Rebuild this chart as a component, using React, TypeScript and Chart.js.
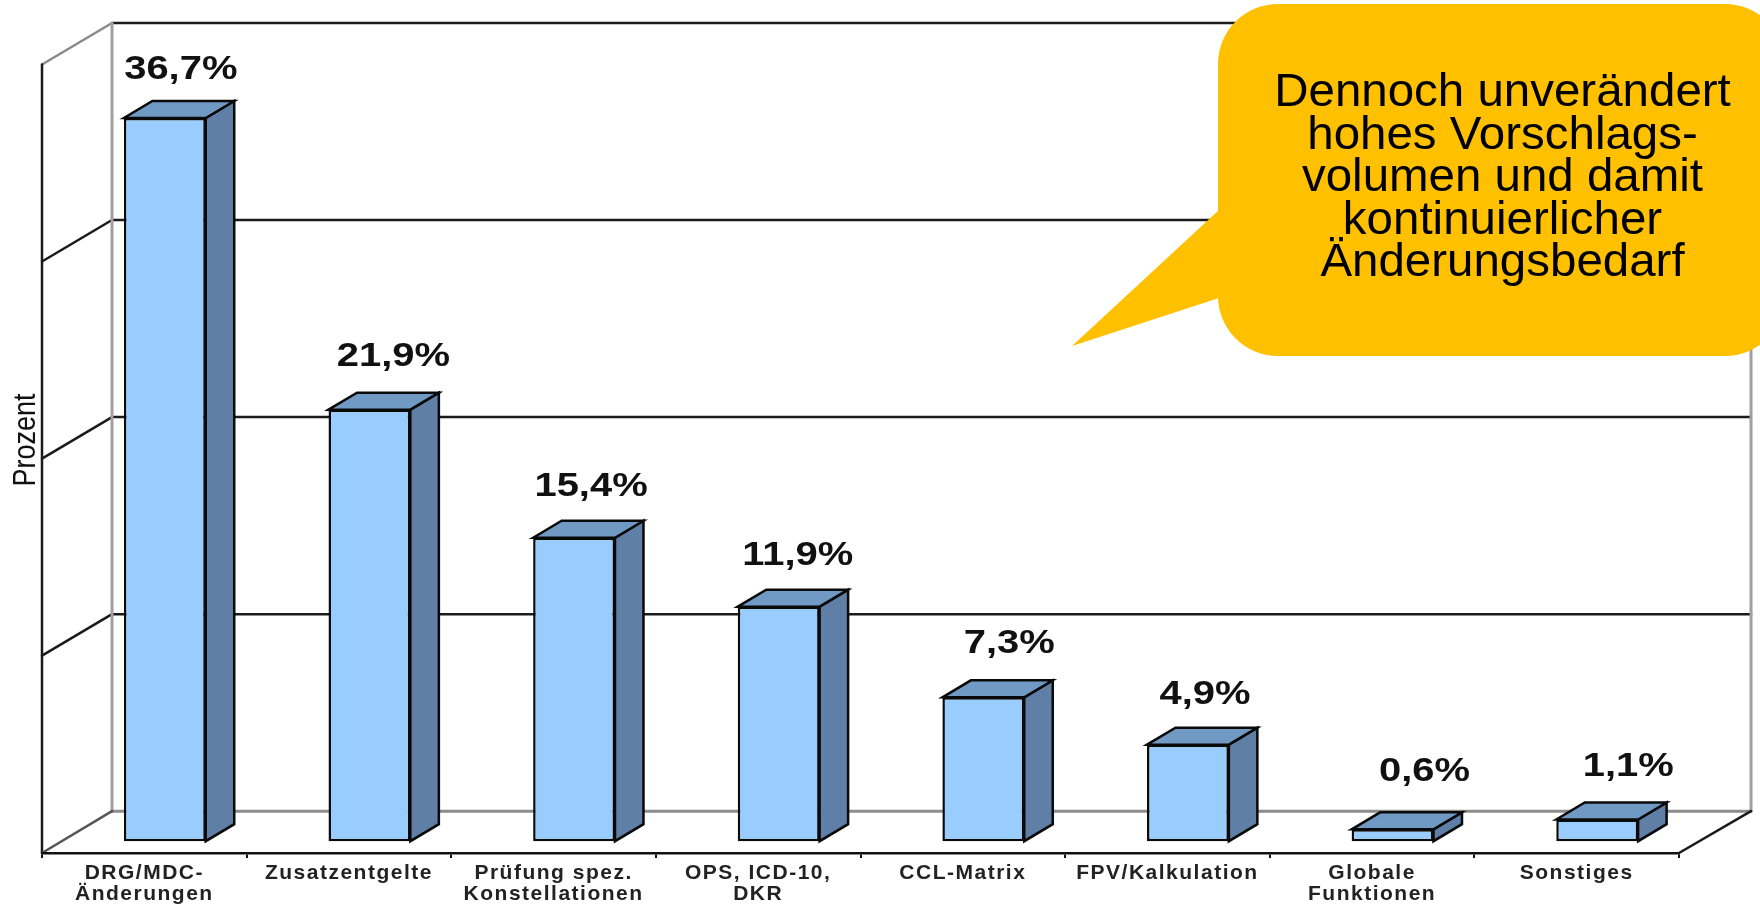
import React, { useEffect, useRef } from "react";
import { Chart, registerables } from "chart.js";

Chart.register(...registerables);

// Vorschlagsverteilung nach Themenbereich
const categories: string[][] = [
  ["DRG/MDC-", "Änderungen"],
  ["Zusatzentgelte"],
  ["Prüfung spez.", "Konstellationen"],
  ["OPS, ICD-10,", "DKR"],
  ["CCL-Matrix"],
  ["FPV/Kalkulation"],
  ["Globale", "Funktionen"],
  ["Sonstiges"],
];
const shares: number[] = [36.7, 21.9, 15.4, 11.9, 7.3, 4.9, 0.6, 1.1];
const shareLabels: string[] = ["36,7%", "21,9%", "15,4%", "11,9%", "7,3%", "4,9%", "0,6%", "1,1%"];
const wallTicks: number[] = [0, 10, 20, 30, 40];
const calloutLines: string[] = [
  "Dennoch unverändert",
  "hohes Vorschlags-",
  "volumen und damit",
  "kontinuierlicher",
  "Änderungsbedarf",
];
const axisTitle = "Prozent";

// Pseudo-3D geometry of the box: depth of the bars and the walls behind them
const BAR_SHIFT = 20.5;
const BAR_DX = 28.5;
const BAR_DY = -17;
const WALL_DX = 70;
const WALL_BACK = -30;
const WALL_FRONT = 11.5;

// Small per-label nudges for the value captions
const captionDx: number[] = [16, 24, 17, 19, 26, 17, 32, 31];
const captionDy: number[] = [-39, -44, -42, -42, -44, -41, -48, -44];

const FONT = '"Liberation Sans", Arial, sans-serif';

const segment = (ctx: CanvasRenderingContext2D, x1: number, y1: number, x2: number, y2: number, color: string, width: number) => {
  ctx.strokeStyle = color;
  ctx.lineWidth = width;
  ctx.beginPath();
  ctx.moveTo(x1, y1);
  ctx.lineTo(x2, y2);
  ctx.stroke();
};

const polygon = (ctx: CanvasRenderingContext2D, pts: number[][], fill: string) => {
  ctx.fillStyle = fill;
  ctx.strokeStyle = "#0a0a0a";
  ctx.lineWidth = 2.5;
  ctx.lineJoin = "miter";
  ctx.beginPath();
  pts.forEach(([x, y], i) => (i ? ctx.lineTo(x, y) : ctx.moveTo(x, y)));
  ctx.closePath();
  ctx.fill();
  ctx.stroke();
};

const boxPlugin = {
  id: "box3d",
  afterDatasetsUpdate(chart: any) {
    chart.getDatasetMeta(0).data.forEach((el: any) => {
      el.x += BAR_SHIFT;
    });
  },
  beforeDraw(chart: any) {
    const { ctx, chartArea: area, scales } = chart;
    const y = scales.y;
    const left = area.left;
    const right = area.right;
    const backL = left + WALL_DX;
    const backR = right + WALL_DX + 2;
    const bottom = y.getPixelForValue(0);
    const top = y.getPixelForValue(40);
    ctx.save();
    ctx.lineCap = "round";
    // Side wall and horizontal rules
    wallTicks.forEach((v) => {
      const py = y.getPixelForValue(v);
      if (v === 0) return;
      const dark = v < 40;
      segment(ctx, left, py + WALL_FRONT, backL, py + WALL_BACK, dark ? "#1a1a1a" : "#8a8a8a", 2.5);
      segment(ctx, backL, py + WALL_BACK, backR, py + WALL_BACK, "#1a1a1a", 2.5);
    });
    // Back wall frame and floor
    segment(ctx, backL, top + WALL_BACK, backL, bottom + WALL_BACK, "#a0a0a0", 3);
    segment(ctx, backR, top + WALL_BACK, backR, bottom + WALL_BACK, "#a0a0a0", 3);
    segment(ctx, backL, bottom + WALL_BACK, backR, bottom + WALL_BACK, "#8c8c8c", 3);
    segment(ctx, left, top + WALL_FRONT, left, area.bottom, "#1a1a1a", 2.5);
    segment(ctx, left, area.bottom, backL, bottom + WALL_BACK, "#555555", 2.5);
    segment(ctx, right, area.bottom, backR, bottom + WALL_BACK, "#1a1a1a", 2.5);
    ctx.restore();
    // Wide tracking for the category labels
    ctx.letterSpacing = "1.5px";
  },
  beforeDatasetsDraw(chart: any) {
    const { ctx } = chart;
    ctx.letterSpacing = "0px";
    ctx.save();
    chart.getDatasetMeta(0).data.forEach((el: any) => {
      const l = el.x - el.width / 2;
      const r = el.x + el.width / 2;
      const t = el.y;
      const b = el.base;
      polygon(ctx, [[r, t], [r + BAR_DX, t + BAR_DY], [r + BAR_DX, b + BAR_DY], [r, b]], "#5f7fa6");
      polygon(ctx, [[l, t], [l + BAR_DX, t + BAR_DY], [r + BAR_DX, t + BAR_DY], [r, t]], "#7099c4");
    });
    ctx.restore();
  },
  afterDatasetsDraw(chart: any) {
    const { ctx } = chart;
    ctx.save();
    ctx.fillStyle = "#111111";
    ctx.textAlign = "center";
    ctx.textBaseline = "alphabetic";
    ctx.font = `bold 33px ${FONT}`;
    chart.getDatasetMeta(0).data.forEach((el: any, i: number) => {
      ctx.save();
      ctx.translate(el.x + captionDx[i], el.y + captionDy[i]);
      ctx.scale(1.21, 1);
      ctx.fillText(shareLabels[i], 0, 0);
      ctx.restore();
    });
    // Axis title, rotated along the side wall
    ctx.save();
    ctx.translate(35, 440);
    ctx.rotate(-Math.PI / 2);
    ctx.font = `32px ${FONT}`;
    ctx.fillStyle = "#111111";
    ctx.scale(0.845, 1);
    ctx.fillText(axisTitle, 0, 0);
    ctx.restore();
    ctx.restore();
  },
  afterDraw(chart: any) {
    const { ctx } = chart;
    // Speech bubble over the upper right of the box
    ctx.save();
    ctx.fillStyle = "#ffc000";
    ctx.beginPath();
    ctx.roundRect(1218, 4, 567, 352, 60);
    ctx.fill();
    ctx.beginPath();
    ctx.moveTo(1219, 210);
    ctx.lineTo(1072, 346);
    ctx.lineTo(1219, 298);
    ctx.closePath();
    ctx.fill();
    ctx.fillStyle = "#000000";
    ctx.textAlign = "center";
    ctx.textBaseline = "alphabetic";
    ctx.font = `47px ${FONT}`;
    calloutLines.forEach((line, i) => {
      ctx.save();
      ctx.translate(1502.5, 106 + i * 42.5);
      ctx.scale(1.01, 1);
      ctx.fillText(line, 0, 0);
      ctx.restore();
    });
    ctx.restore();
  },
};

export default function App() {
  const ref = useRef<HTMLCanvasElement>(null);
  useEffect(() => {
    const chart = new Chart(ref.current!, {
      type: "bar",
      data: {
        labels: categories,
        datasets: [
          {
            data: shares,
            backgroundColor: "#99ccff",
            borderColor: "#0a0a0a",
            borderWidth: 2.5,
            borderSkipped: false,
            barPercentage: 0.4,
            categoryPercentage: 1,
          },
        ],
      },
      options: {
        responsive: false,
        animation: false,
        events: [],
        layout: { padding: { left: 42, right: 81, top: 53, bottom: 0 } },
        plugins: { legend: { display: false }, tooltip: { enabled: false }, title: { display: false } },
        scales: {
          x: {
            afterFit: (scale: any) => {
              scale.height = 52;
            },
            border: { display: true, color: "#111111", width: 2.5 },
            grid: { display: true, drawOnChartArea: false, drawTicks: true, tickLength: 5, color: "#111111", lineWidth: 2 },
            ticks: {
              autoSkip: false,
              maxRotation: 0,
              minRotation: 0,
              padding: 5,
              color: "#222222",
              font: { family: FONT, size: 21, weight: "bold", lineHeight: 1 },
            },
          },
          y: {
            display: false,
            min: -0.6,
            max: 40,
          },
        },
      },
      plugins: [boxPlugin],
    } as any);
    return () => chart.destroy();
  }, []);
  return (
    <div style={{ position: "absolute", left: 0, top: 0, width: 1760, height: 905, background: "#fff", overflow: "hidden" }}>
      <canvas ref={ref} width={1760} height={905} style={{ display: "block" }} />
    </div>
  );
}
